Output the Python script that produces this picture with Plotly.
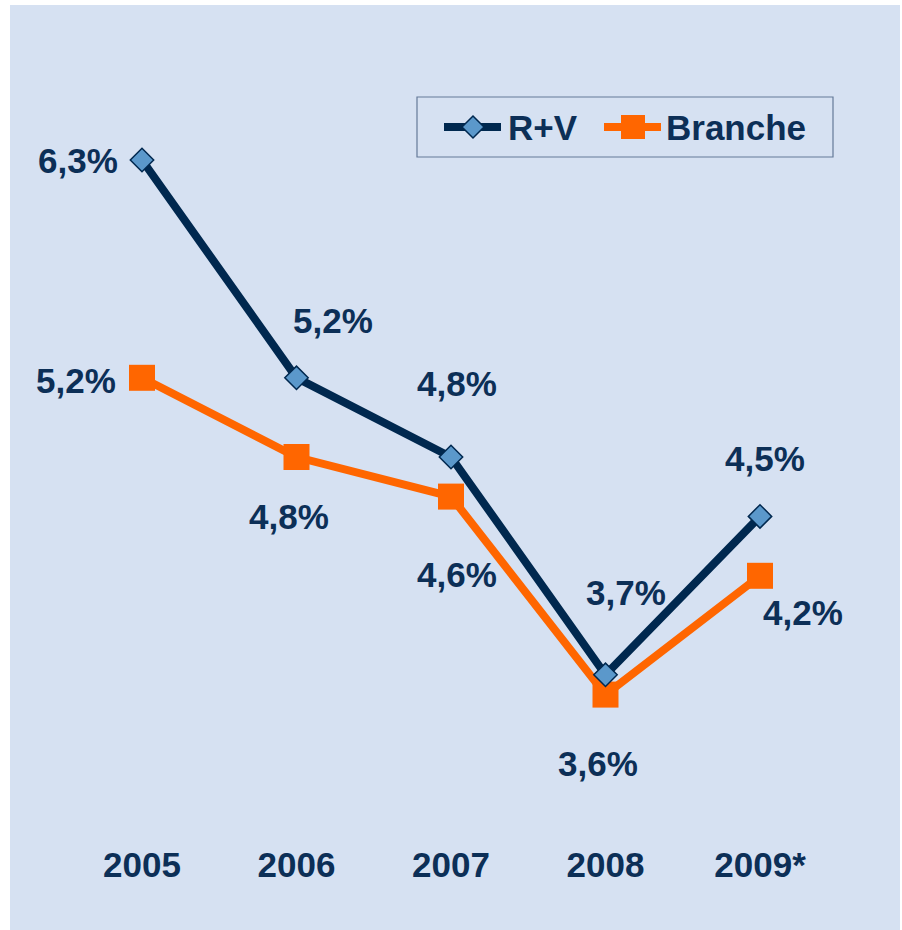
import plotly.graph_objects as go

# ---------------- data ----------------
years = ["2005", "2006", "2007", "2008", "2009*"]
rv_values = [6.3, 5.2, 4.8, 3.7, 4.5]
branche_values = [5.2, 4.8, 4.6, 3.6, 4.2]
series_names = ["R+V", "Branche"]

# ---------------- style ----------------
W, H = 902, 930
L, R, T, B = 10, 2, 5, 89
BG = "#d6e1f2"
NAVY = "#00284f"
TEXT = "#0c2f57"
ORANGE = "#ff6600"
DIAMOND = "#5b98cb"
FONT = "Liberation Sans, Arial, sans-serif"
FS = 35

PW, PH = W - L - R, H - T - B

# axis calibration (pixel positions of category 0 / spacing, value scale)
x0_px, dx_px = 142, 154.5
y_ref_val, y_ref_px, px_per_unit = 6.3, 160, 198.0

x_range = [(L - x0_px) / dx_px, (W - R - x0_px) / dx_px]
y_range = [y_ref_val - ((H - B) - y_ref_px) / px_per_unit,
           y_ref_val - (T - y_ref_px) / px_per_unit]


def fmt(v):
    return f"{v:.1f}".replace(".", ",") + "%"


def px_x(p):
    return (p - L) / PW


def px_y(p):
    return 1 - (p - T) / PH


idx = list(range(len(years)))

fig = go.Figure()
fig.add_trace(go.Scatter(
    x=idx, y=branche_values, mode="lines+markers", name=series_names[1],
    line=dict(color=ORANGE, width=8),
    marker=dict(symbol="square", size=26, color=ORANGE, line=dict(width=0)),
    showlegend=False, cliponaxis=False, hoverinfo="skip"))
fig.add_trace(go.Scatter(
    x=idx, y=rv_values, mode="lines+markers", name=series_names[0],
    line=dict(color=NAVY, width=8),
    marker=dict(symbol="diamond", size=18, color=DIAMOND, line=dict(width=1.5, color=NAVY)),
    showlegend=False, cliponaxis=False, hoverinfo="skip"))

# data labels (offsets in pixels)
rv_off = [(-64, 0), (36, 57), (6, 74), (20, 82), (5, 58)]
br_off = [(-66, -3), (-8, -59), (6, -78), (-8, -69), (43, -37)]
annotations = []
for i, v in enumerate(rv_values):
    annotations.append(dict(x=i, y=v, xref="x", yref="y", text=fmt(v), showarrow=False,
                            xshift=rv_off[i][0], yshift=rv_off[i][1],
                            font=dict(family=FONT, size=FS, color=TEXT)))
for i, v in enumerate(branche_values):
    annotations.append(dict(x=i, y=v, xref="x", yref="y", text=fmt(v), showarrow=False,
                            xshift=br_off[i][0], yshift=br_off[i][1],
                            font=dict(family=FONT, size=FS, color=TEXT)))

# manual legend (layout decoration in paper coordinates)
shapes = []
# white outer strips
shapes.append(dict(type="rect", xref="paper", yref="paper", x0=px_x(0), x1=px_x(L), y0=px_y(H), y1=px_y(0),
                   fillcolor="white", line=dict(width=0), layer="above"))
shapes.append(dict(type="rect", xref="paper", yref="paper", x0=px_x(0), x1=px_x(W), y0=px_y(T), y1=px_y(0),
                   fillcolor="white", line=dict(width=0), layer="above"))
shapes.append(dict(type="rect", xref="paper", yref="paper", x0=px_x(W - R), x1=px_x(W), y0=px_y(H), y1=px_y(0),
                   fillcolor="white", line=dict(width=0), layer="above"))
# legend box
shapes.append(dict(type="rect", xref="paper", yref="paper", x0=px_x(417), x1=px_x(833), y0=px_y(157), y1=px_y(97),
                   fillcolor="rgba(0,0,0,0)", line=dict(width=1.2, color="#647a98")))
ly = 127
shapes.append(dict(type="line", xref="paper", yref="paper", x0=px_x(444), x1=px_x(501), y0=px_y(ly), y1=px_y(ly),
                   line=dict(color=NAVY, width=8)))
dm = 11
shapes.append(dict(type="path", xref="paper", yref="paper",
                   path=f"M {px_x(473 - dm)} {px_y(ly)} L {px_x(473)} {px_y(ly - dm)} L {px_x(473 + dm)} {px_y(ly)} L {px_x(473)} {px_y(ly + dm)} Z",
                   fillcolor=DIAMOND, line=dict(color=NAVY, width=1.5)))
shapes.append(dict(type="line", xref="paper", yref="paper", x0=px_x(604), x1=px_x(661), y0=px_y(ly), y1=px_y(ly),
                   line=dict(color=ORANGE, width=8)))
sq = 12
shapes.append(dict(type="rect", xref="paper", yref="paper", x0=px_x(633 - sq), x1=px_x(633 + sq),
                   y0=px_y(ly + sq), y1=px_y(ly - sq), fillcolor=ORANGE, line=dict(width=0)))
annotations.append(dict(xref="paper", yref="paper", x=px_x(506), y=px_y(ly), xanchor="left", yanchor="middle",
                        text=series_names[0], showarrow=False, font=dict(family=FONT, size=FS, color=TEXT)))
annotations.append(dict(xref="paper", yref="paper", x=px_x(664), y=px_y(ly), xanchor="left", yanchor="middle",
                        text=series_names[1], showarrow=False, font=dict(family=FONT, size=FS, color=TEXT)))

fig.update_layout(
    width=W, height=H,
    margin=dict(l=L, r=R, t=T, b=B, pad=0),
    paper_bgcolor=BG, plot_bgcolor=BG,
    showlegend=False,
    hovermode=False,
    annotations=annotations, shapes=shapes,
    xaxis=dict(range=x_range, tickmode="array", tickvals=idx, ticktext=[f"<b>{y}</b>" for y in years],
               showgrid=False, zeroline=False, showline=False, ticks="", fixedrange=True,
               tickfont=dict(family=FONT, size=FS, color=TEXT)),
    yaxis=dict(range=y_range, showgrid=False, zeroline=False, showline=False, showticklabels=False,
               ticks="", fixedrange=True),
    font=dict(family=FONT, size=FS, color=TEXT),
)
for a in fig.layout.annotations:
    a.text = f"<b>{a.text}</b>"

fig.write_html("out.html", config={"displayModeBar": False},
               post_script="document.body.style.margin='0';document.body.style.overflow='hidden';")
